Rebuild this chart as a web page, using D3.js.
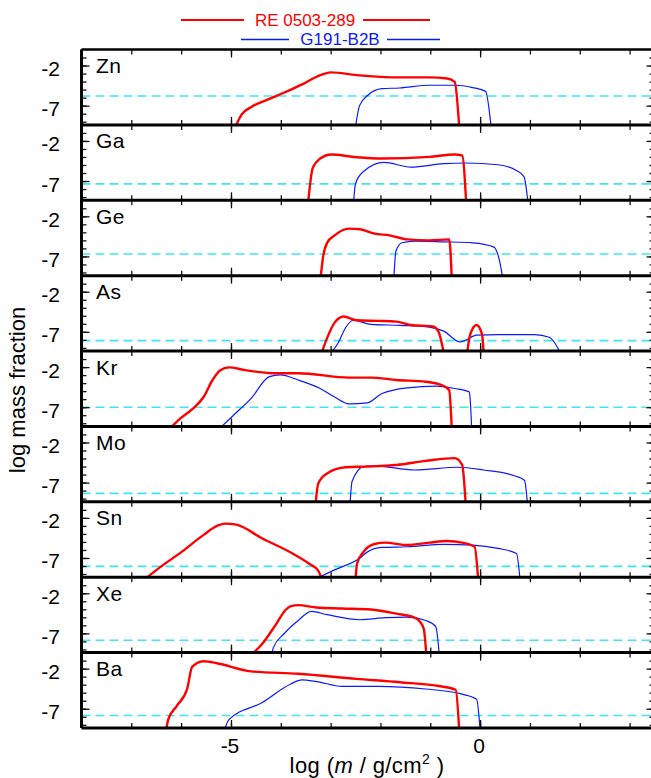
<!DOCTYPE html>
<html><head><meta charset="utf-8">
<script src="https://cdn.jsdelivr.net/npm/d3@7"></script>
<style>
body{margin:0;background:#fff}
svg{display:block}
text{font-family:"Liberation Sans",Arial,Helvetica,sans-serif;fill:#000}
</style>
</head><body>
<svg id="chart" width="651" height="778"></svg>
<script>
// ---- data ----
const elements = ["Zn","Ga","Ge","As","Kr","Mo","Sn","Xe","Ba"];
const solar = [-5.8,-7.35,-6.7,-8.1,-7.0,-8.35,-8.05,-7.85,-7.85];
const seriesNames = ["RE 0503-289","G191-B2B"];
const xTickLabels = [-5, 0];
const yTickLabels = [-2, -7];

const reZn = [[-4.91,-9.6],[-4.78,-8.06],[-4.6,-7.2],[-4.23,-6.15],[-3.94,-5.39],[-3.54,-4.25],[-3.28,-3.4],[-2.99,-2.85],[-2.48,-3.19],[-1.61,-3.48],[-1.02,-3.48],[-0.66,-3.61],[-0.51,-4.03],[-0.42,-9.6]];
const gbZn = [[-2.5,-9.6],[-2.42,-7.0],[-2.26,-5.73],[-1.97,-4.88],[-1.61,-4.8],[-1.02,-4.46],[-0.51,-4.46],[-0.15,-4.75],[0.11,-5.22],[0.22,-9.6]];
const reGa = [[-3.45,-9.6],[-3.36,-5.39],[-3.21,-4.2],[-2.99,-3.69],[-2.48,-4.03],[-1.97,-4.2],[-1.02,-3.99],[-0.51,-3.69],[-0.36,-3.82],[-0.28,-9.6]];
const gbGa = [[-2.54,-9.6],[-2.5,-7.3],[-2.34,-5.81],[-1.93,-4.67],[-1.39,-5.26],[-0.73,-4.84],[-0.29,-4.75],[0.36,-4.97],[0.73,-5.69],[0.88,-6.45],[0.96,-9.6]];
const reGe = [[-3.2,-9.6],[-3.15,-7.0],[-3.07,-5.3],[-2.92,-4.37],[-2.63,-3.53],[-2.41,-3.61],[-2.12,-4.16],[-1.82,-4.37],[-1.46,-4.88],[-1.02,-5.0],[-0.62,-4.88],[-0.57,-9.6]];
const gbGe = [[-1.73,-9.6],[-1.69,-6.36],[-1.57,-5.3],[-1.31,-5.09],[-0.73,-5.18],[-0.15,-5.3],[0.27,-5.81],[0.4,-7.85],[0.45,-9.6]];
const reAs = [[-3.18,-9.6],[-3.07,-7.76],[-2.92,-5.86],[-2.74,-5.09],[-2.48,-5.56],[-2.04,-5.64],[-1.68,-5.73],[-1.39,-6.15],[-0.95,-6.32],[-0.84,-6.92],[-0.73,-9.6],null,[-0.26,-9.6],[-0.2,-7.34],[-0.07,-6.15],[0.04,-7.34],[0.07,-9.6]];
const gbAs = [[-2.99,-9.6],[-2.85,-8.4],[-2.7,-6.49],[-2.55,-5.56],[-2.19,-6.07],[-1.61,-6.2],[-1.02,-6.41],[-0.73,-6.92],[-0.4,-8.27],[-0.07,-7.42],[0.36,-7.34],[1.09,-7.34],[1.39,-7.68],[1.61,-9.6]];
const reKr = [[-6.22,-9.6],[-5.99,-8.27],[-5.77,-7.21],[-5.55,-5.73],[-5.37,-3.61],[-5.22,-2.42],[-5.04,-2.04],[-4.74,-2.34],[-4.16,-2.76],[-3.65,-2.76],[-2.63,-3.31],[-2.19,-3.31],[-1.68,-3.61],[-1.09,-3.82],[-0.77,-4.25],[-0.62,-4.88],[-0.57,-9.6]];
const gbKr = [[-5.22,-9.6],[-4.96,-8.06],[-4.6,-5.94],[-4.23,-3.19],[-4.01,-2.97],[-3.65,-3.61],[-3.21,-4.67],[-2.92,-5.73],[-2.63,-6.58],[-2.26,-6.45],[-1.97,-5.3],[-1.46,-4.58],[-0.88,-4.37],[-0.51,-4.67],[-0.22,-5.09],[-0.2,-5.94],[-0.17,-9.6]];
const reMo = [[-3.3,-9.6],[-3.25,-7.13],[-3.07,-5.86],[-2.7,-5.09],[-2.26,-5.0],[-1.68,-4.8],[-1.09,-4.29],[-0.51,-3.95],[-0.36,-4.8],[-0.29,-9.6]];
const gbMo = [[-2.61,-9.6],[-2.57,-6.87],[-2.34,-5.0],[-2.12,-4.92],[-1.31,-5.43],[-0.44,-5.09],[0.07,-5.43],[0.69,-6.15],[0.89,-6.7],[0.95,-9.6]];
const reSn = [[-6.72,-9.6],[-6.42,-8.14],[-5.99,-6.24],[-5.55,-4.12],[-5.26,-2.93],[-5.11,-2.72],[-4.89,-2.85],[-4.38,-4.54],[-3.8,-6.32],[-3.43,-7.72],[-3.25,-8.57],[-3.18,-9.6],null,[-2.5,-9.6],[-2.47,-7.72],[-2.34,-6.24],[-2.12,-5.26],[-1.9,-5.09],[-1.46,-5.39],[-1.02,-5.09],[-0.66,-4.88],[-0.36,-5.09],[-0.11,-5.6],[-0.04,-9.6]];
const gbSn = [[-3.3,-9.6],[-2.92,-8.48],[-2.41,-7.0],[-2.26,-6.24],[-1.97,-5.69],[-1.46,-5.6],[-0.73,-5.3],[-0.15,-5.39],[0.36,-5.81],[0.73,-6.45],[0.8,-9.6]];
const reXe = [[-4.58,-9.6],[-4.38,-8.36],[-4.09,-5.81],[-3.91,-4.12],[-3.8,-3.61],[-3.65,-3.48],[-3.28,-3.78],[-2.77,-3.9],[-2.19,-4.03],[-1.68,-4.54],[-1.31,-5.05],[-1.2,-5.6],[-1.13,-6.45],[-1.08,-9.6]];
const gbXe = [[-4.18,-9.6],[-4.15,-8.78],[-3.94,-7.08],[-3.65,-5.39],[-3.39,-4.25],[-3.07,-4.67],[-2.41,-5.3],[-1.9,-5.05],[-1.46,-4.97],[-1.09,-5.39],[-0.89,-6.15],[-0.82,-9.6]];
const reBa = [[-6.3,-9.6],[-6.26,-8.36],[-6.09,-6.66],[-5.88,-4.54],[-5.78,-1.79],[-5.55,-1.07],[-5.26,-1.36],[-4.6,-2.34],[-3.65,-2.64],[-2.48,-3.27],[-1.61,-3.69],[-0.8,-4.2],[-0.49,-4.63],[-0.42,-9.6]];
const gbBa = [[-5.13,-9.6],[-5.04,-8.36],[-4.38,-6.24],[-3.8,-3.91],[-3.58,-3.4],[-3.28,-3.61],[-2.77,-4.2],[-2.04,-4.2],[-1.09,-4.54],[-0.36,-5.18],[-0.07,-5.81],[0.0,-9.6]];

const reData = [reZn,reGa,reGe,reAs,reKr,reMo,reSn,reXe,reBa];
const gbData = [gbZn,gbGa,gbGe,gbAs,gbKr,gbMo,gbSn,gbXe,gbBa];

// ---- layout ----
const svg = d3.select("#chart");
const L = 81.5, R = 654.5, T = 49.5, B = 728;
const nP = elements.length;
const pH = (B - T) / nP;
const x = d3.scaleLinear().domain([-8, 3.5]).range([L, R]);
const RED = "#ff0000", BLUE = "#0a1aff", CYAN = "#3fe6f0";

const defs = svg.append("defs");

elements.forEach((el, i) => {
  const top = T + i * pH, bot = top + pH;
  const y = d3.scaleLinear().domain([-9.4, 0]).range([bot, top]);
  const g = svg.append("g");
  defs.append("clipPath").attr("id", "clip" + i)
    .append("rect").attr("x", L).attr("y", top).attr("width", R - L).attr("height", pH);

  const plot = g.append("g").attr("clip-path", `url(#clip${i})`);
  plot.append("line")
    .attr("x1", L).attr("x2", R)
    .attr("y1", y(solar[i])).attr("y2", y(solar[i]))
    .attr("stroke", CYAN).attr("stroke-width", 1.6).attr("stroke-dasharray", "9,5");

  const line = d3.line().defined(d => d !== null)
    .x(d => x(d[0])).y(d => y(d[1])).curve(d3.curveMonotoneX);
  plot.append("path").datum(gbData[i]).attr("d", line)
    .attr("fill", "none").attr("stroke", BLUE).attr("stroke-width", 1.2);
  plot.append("path").datum(reData[i]).attr("d", line)
    .attr("fill", "none").attr("stroke", RED).attr("stroke-width", 2.4).attr("stroke-linejoin", "round");

  const xMinor = d3.range(-8, 4);
  const ax = (axis, ty, vals, len) => {
    const a = g.append("g").attr("transform", `translate(0,${ty})`)
      .call(axis(x).tickValues(vals).tickSize(len).tickFormat(""));
    a.select(".domain").remove();
    a.selectAll("line").attr("stroke", "#111").attr("stroke-width", 1.3);
  };
  ax(d3.axisTop, bot, xMinor, 5);
  ax(d3.axisBottom, top, xMinor, 5);
  ax(d3.axisTop, bot, xTickLabels, 8);
  ax(d3.axisBottom, top, xTickLabels, 8);

  const yMinor = d3.range(-9, 0);
  const ay = (axis, tx, vals, len) => {
    const a = g.append("g").attr("transform", `translate(${tx},0)`)
      .call(axis(y).tickValues(vals).tickSize(len).tickFormat(""));
    a.select(".domain").remove();
    a.selectAll("line").attr("stroke", "#111").attr("stroke-width", 1.3);
  };
  ay(d3.axisRight, L, yMinor, 5);
  ay(d3.axisLeft, R, yMinor, 5);
  ay(d3.axisRight, L, yTickLabels, 8);
  ay(d3.axisLeft, R, yTickLabels, 8);

  g.selectAll("text.yl").data(yTickLabels).enter().append("text")
    .attr("x", 60).attr("y", d => y(d) + 3)
    .attr("text-anchor", "end").attr("dominant-baseline", "central")
    .attr("font-size", 21).text(d => d);

  g.append("text").attr("x", 96).attr("y", top + 23.5)
    .attr("font-size", 21).attr("letter-spacing", 0.5).text(el);

  g.append("line").attr("x1", L).attr("x2", R).attr("y1", bot).attr("y2", bot)
    .attr("stroke", "#000").attr("stroke-width", 3);
});

svg.append("line").attr("x1", L).attr("x2", R).attr("y1", T).attr("y2", T)
  .attr("stroke", "#000").attr("stroke-width", 2.6);
svg.append("line").attr("x1", L).attr("x2", L).attr("y1", T).attr("y2", B)
  .attr("stroke", "#000").attr("stroke-width", 3);
svg.append("line").attr("x1", R).attr("x2", R).attr("y1", T).attr("y2", B)
  .attr("stroke", "#000").attr("stroke-width", 3);

svg.selectAll("text.xl").data(xTickLabels).enter().append("text")
  .attr("x", d => x(d) - 1).attr("y", B + 25)
  .attr("text-anchor", "middle").attr("font-size", 21).text(d => d);

const xt = svg.append("text").attr("x", 367).attr("y", 773)
  .attr("text-anchor", "middle").attr("font-size", 22).attr("letter-spacing", 0.4);
xt.append("tspan").text("log (");
xt.append("tspan").attr("font-style", "italic").text("m");
xt.append("tspan").text(" / g/cm");
xt.append("tspan").attr("font-size", 14).attr("dy", -9).text("2");
xt.append("tspan").attr("dy", 9).text(" )");

svg.append("text").attr("transform", "translate(25,390) rotate(-90)")
  .attr("text-anchor", "middle").attr("font-size", 22).text("log mass fraction");

const leg = [
  {name: seriesNames[0], color: RED, w: 2, y: 20, cx: 305, x1: 181, x2: 244, x3: 363, x4: 430},
  {name: seriesNames[1], color: BLUE, w: 1.5, y: 39.5, cx: 340, x1: 241, x2: 289, x3: 387, x4: 440}
];
leg.forEach(d => {
  svg.append("line").attr("x1", d.x1).attr("x2", d.x2).attr("y1", d.y).attr("y2", d.y)
    .attr("stroke", d.color).attr("stroke-width", d.w);
  svg.append("line").attr("x1", d.x3).attr("x2", d.x4).attr("y1", d.y).attr("y2", d.y)
    .attr("stroke", d.color).attr("stroke-width", d.w);
  svg.append("text").attr("x", d.cx).attr("y", d.y).attr("dominant-baseline", "central")
    .attr("text-anchor", "middle").attr("font-size", 17).style("fill", d.color).text(d.name);
});
</script>
</body></html>
